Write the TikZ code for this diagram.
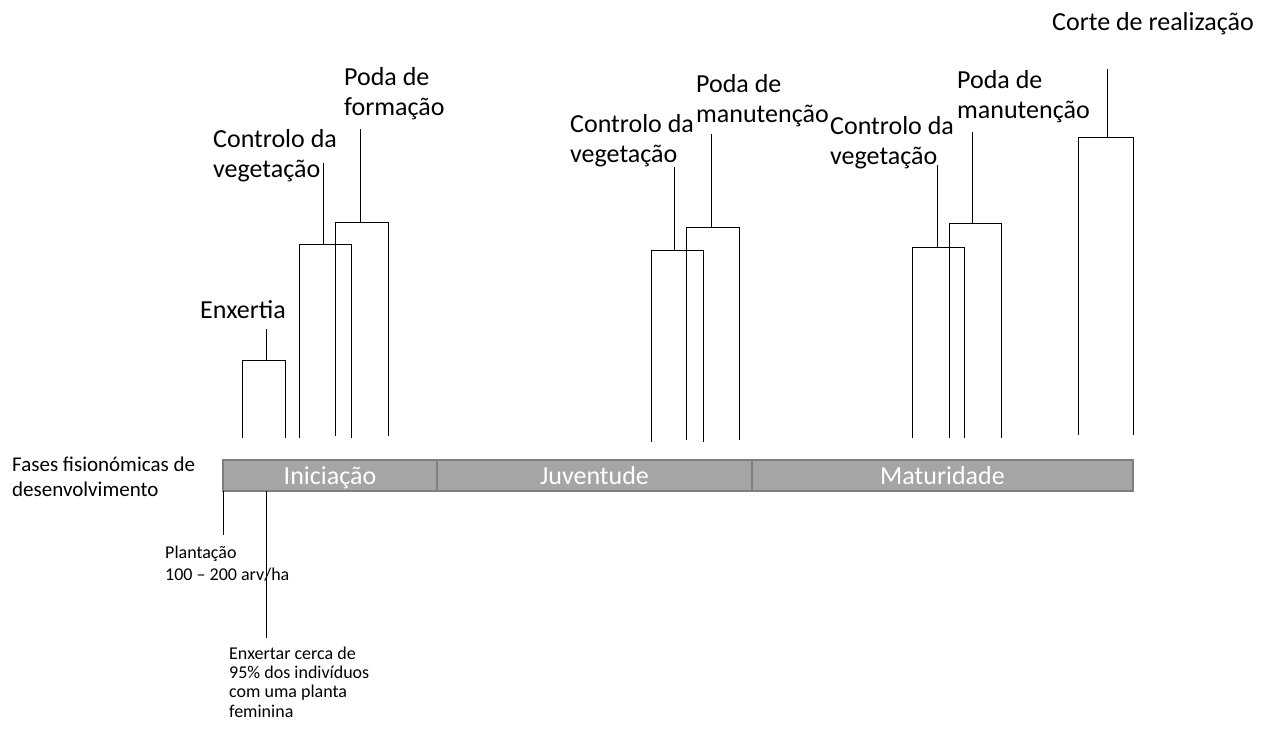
\documentclass[tikz,border=0pt]{standalone}
\usepackage{fontspec}
\setmainfont{Carlito}
\usetikzlibrary{positioning}

\definecolor{phasefill}{HTML}{A5A5A5}
\definecolor{phaseline}{HTML}{7F7F7F}

\begin{document}
\begin{tikzpicture}[
  x=1pt, y=-1pt,
  every node/.style={inner sep=0pt, anchor=base west, align=left},
  evt/.style={font=\fontsize{26}{30}\selectfont},
  note/.style={font=\fontsize{18}{21}\selectfont},
  phase/.style={draw=phaseline, fill=phasefill, line width=1.5pt, anchor=north west,
    outer sep=0pt, minimum height=31pt, text=white, align=center,
    font=\fontsize{26}{30}\selectfont, text height=18pt, text depth=0pt},
  tick/.style={line width=0.9pt, black}
]
  \useasboundingbox (0,0) rectangle (1265,728);

  % --- Fases ---
  \node (ini) [phase, minimum width=214pt] at (223,460) {Iniciação};
  \node (juv) [phase, minimum width=315pt, right=0pt of ini] {Juventude};
  \node (mat) [phase, minimum width=381pt, right=0pt of juv] {Maturidade};

  % (base = linha de baixo)
  \node (fases) [font=\fontsize{21}{25}\selectfont] at (12,496) {Fases fisionómicas de\\desenvolvimento};

  % --- Operações: Iniciação ---
  \node (enx) [evt] at (200,318) {Enxertia};
  \draw[tick] (242,438) |- (285,360) -- (285,438);
  \draw[tick] (266,329) -- (266,360);

  \node (ctrlI) [evt] at (213,177) {Controlo da\\vegetação};
  \draw[tick] (299,438) |- (351,244) -- (351,438);
  \draw[tick] (323,163) -- (323,244);

  \node (podaI) [evt] at (344,115) {Poda de\\formação};
  \draw[tick] (335,436) |- (388,222) -- (388,436);
  \draw[tick] (360,129) -- (360,222);

  % --- Operações: Juventude ---
  \node (ctrlJ) [evt] at (570,162) {Controlo da\\vegetação};
  \draw[tick] (651,442) |- (703,250) -- (703,442);
  \draw[tick] (674,167) -- (674,250);

  \node (podaJ) [evt] at (696,122) {Poda de\\manutenção};
  \draw[tick] (686,440) |- (739,227) -- (739,440);
  \draw[tick] (711,134) -- (711,227);

  % --- Operações: Maturidade ---
  \node (ctrlM) [evt] at (830,164) {Controlo da\\vegetação};
  \draw[tick] (912,438) |- (964,247) -- (964,438);
  \draw[tick] (937,165) -- (937,247);

  \node (podaM) [evt] at (957,118) {Poda de\\manutenção};
  \draw[tick] (949,438) |- (1001,223) -- (1001,438);
  \draw[tick] (972,132) -- (972,223);

  \node (corte) [evt] at (1052,30) {Corte de realização};
  \draw[tick] (1078,435) |- (1133,137) -- (1133,435);
  \draw[tick] (1107,69) -- (1107,137);

  % --- Notas em baixo ---
  \node (plant) [note, font=\fontsize{18}{22}\selectfont] at (165,580) {Plantação\\100 -- 200 arv/ha};
  \draw[tick] (ini.south west) -- (223,535);

  \node (enxn) [note, font=\fontsize{18}{19.3}\selectfont] at (229,717)
    {Enxertar cerca de\\95\% dos indivíduos\\com uma planta\\feminina};
  \draw[tick] (266,491) -- (266,638);
\end{tikzpicture}
\end{document}
